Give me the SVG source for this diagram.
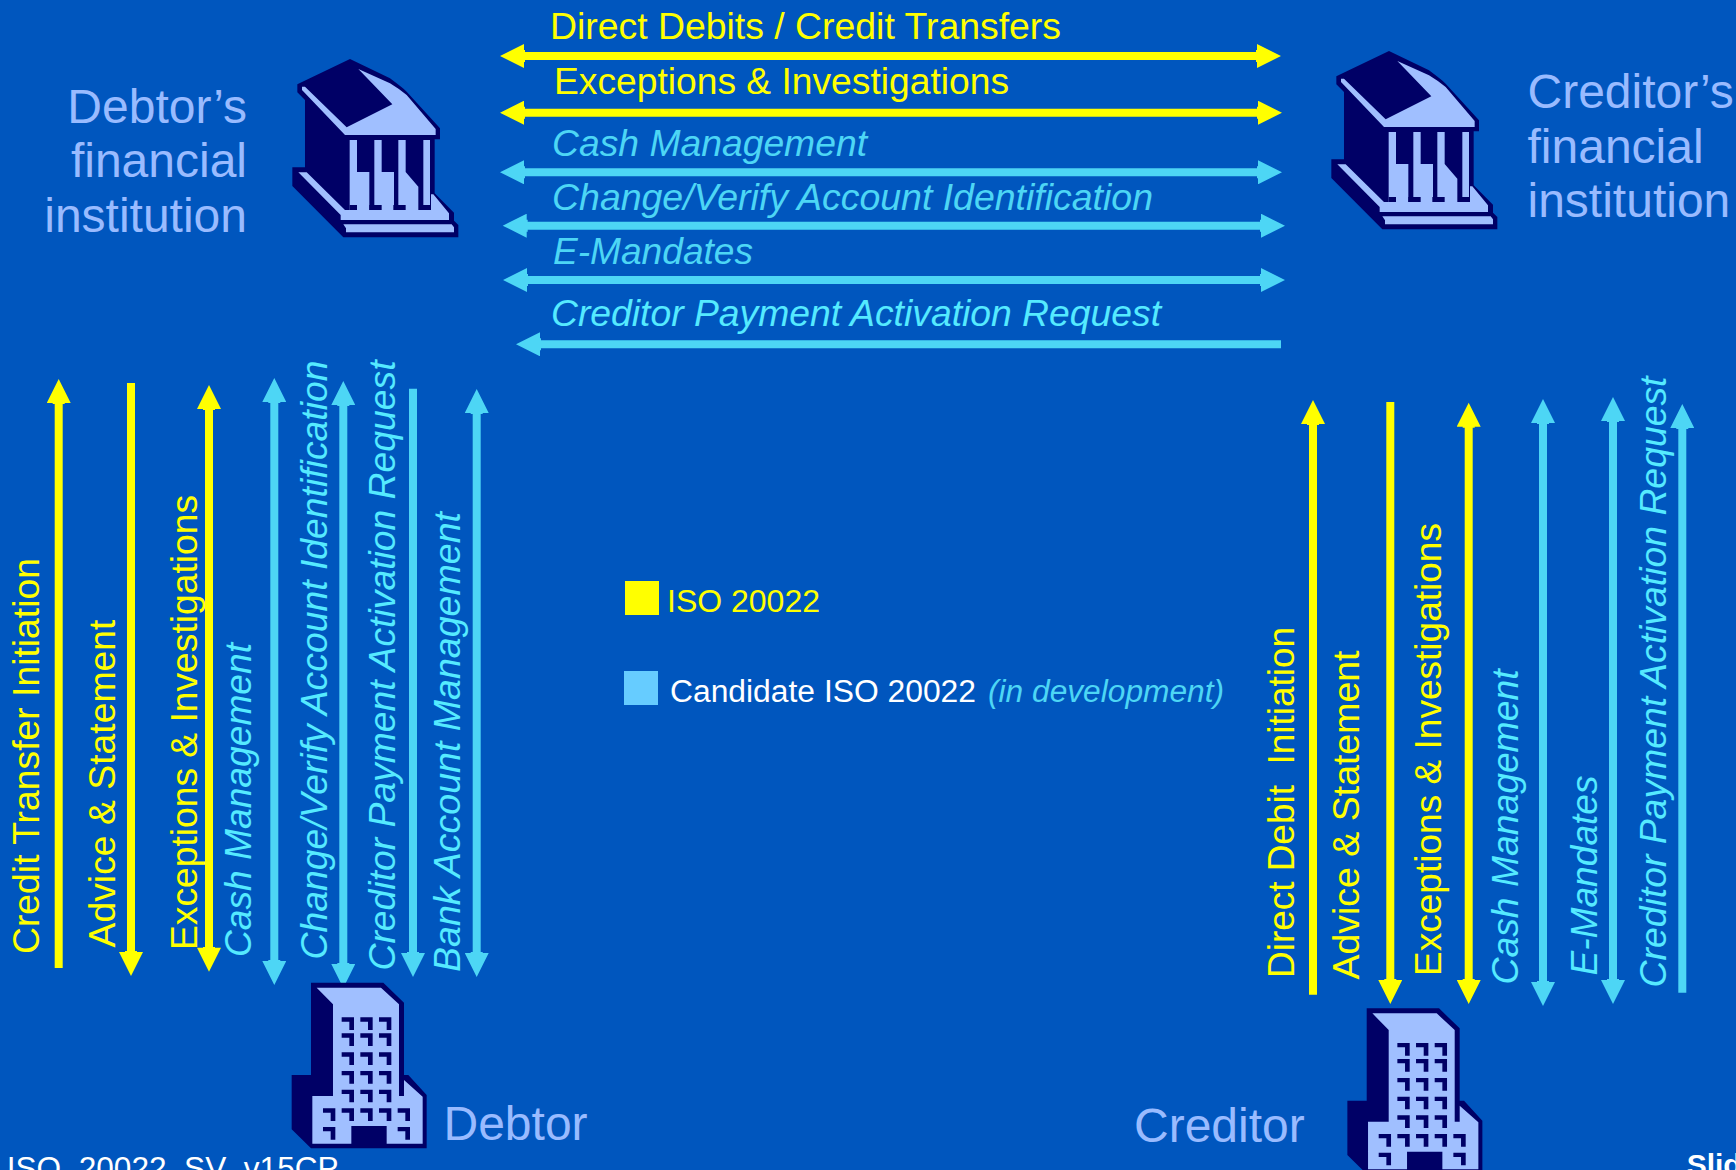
<svg xmlns="http://www.w3.org/2000/svg" width="1736" height="1170" viewBox="0 0 1736 1170">
<style>
text{font-family:"Liberation Sans",Arial,sans-serif}
.h{font-size:37px}
.v{font-size:37px}
.y{fill:#ffff00}
.c{fill:#4dd6f5;font-style:italic}
.b{fill:#55eaff;font-style:italic}
.n{fill:#99bbff;font-size:48px}
.w{fill:#ffffff}
.ly{stroke:#ffff00;stroke-width:8;fill:none}
.lc{stroke:#4dd6f5;stroke-width:8;fill:none}
.ya{marker-start:url(#hy);marker-end:url(#hy)}
.ca{marker-start:url(#hc);marker-end:url(#hc)}
.d{fill:#000066}
.l{fill:#a0bfff}
</style>
<defs>
<marker id="hy" markerUnits="userSpaceOnUse" markerWidth="26" markerHeight="24" refX="1" refY="12" orient="auto-start-reverse"><path d="M0,6H1V0L25,12L1,24V18H0Z" fill="#ffff00"/></marker>
<marker id="hc" markerUnits="userSpaceOnUse" markerWidth="26" markerHeight="24" refX="1" refY="12" orient="auto-start-reverse"><path d="M0,6H1V0L25,12L1,24V18H0Z" fill="#4dd6f5"/></marker>
<symbol id="bank" overflow="visible">
<path class="d" d="M240,57L82,133V157L105,180V382H67V438L220,592H565V555L552,542V518L494,460V298H510V265L410,155Q400,145 360,115Z"/>
<path class="l" d="M265,87L360,130Q385,145 410,165L497,267V285H225L96,150V140H105L230,262L367,193Z"/>
<path class="l" d="M85,397H110L225,510H483V463H490L537,520V540H212V525Z"/>
<path class="l" d="M239,300H261V396H298V510H239Z"/>
<path class="l" d="M313,300H335V396H372V510H313Z"/>
<path class="l" d="M385,300H407V396L445,440V510H385Z"/>
<path class="l" d="M460,300H480V510H460Z"/>
<path class="d" d="M239,495H261V510H239ZM298,495H335V510H298ZM370,495H407V510H370ZM447,495H483V510H447Z"/>
<path class="l" d="M220,553H545L552,562V577H228V565Z"/>
</symbol>
<path id="win" class="d" d="M0,0H37V38H23V13H0Z"/>
<symbol id="office" overflow="visible">
<path class="d" d="M123,38H340L402,98V315H415L470,375V535H123L65,478V315H123Z"/>
<path class="l" d="M140,53H333L387,103V378H402V330L458,380V521H350V468H244V521H127V378H189V103Z"/>
<use href="#win" x="215" y="142"/><use href="#win" x="271" y="142"/><use href="#win" x="327" y="142"/>
<use href="#win" x="215" y="190"/><use href="#win" x="271" y="190"/><use href="#win" x="327" y="190"/>
<use href="#win" x="215" y="247"/><use href="#win" x="271" y="247"/><use href="#win" x="327" y="247"/>
<use href="#win" x="215" y="303"/><use href="#win" x="271" y="303"/><use href="#win" x="327" y="303"/>
<use href="#win" x="215" y="359"/><use href="#win" x="271" y="359"/><use href="#win" x="327" y="359"/>
<use href="#win" x="159" y="415"/><use href="#win" x="215" y="415"/><use href="#win" x="271" y="415"/><use href="#win" x="327" y="415"/><use href="#win" x="383" y="415"/>
<use href="#win" x="159" y="471"/><use href="#win" x="383" y="471"/>
</symbol>
</defs>
<rect width="1736" height="1170" fill="#0056be"/>

<g id="connectors">
<path class="ly ya" d="M524,56H1257"/>
<path class="ly ya" d="M524,112.7H1258"/>
<path class="lc ca" d="M524,172.3H1258"/>
<path class="lc ca" d="M526.7,225.7H1261"/>
<path class="lc ca" d="M527,280H1261"/>
<path class="lc" marker-start="url(#hc)" d="M540,344.3H1281"/>

<path class="ly" marker-start="url(#hy)" d="M58.7,403V968"/>
<path class="ly" marker-end="url(#hy)" d="M131,383V952"/>
<path class="ly ya" d="M209,409V947.7"/>
<path class="lc ca" d="M274.3,402V961"/>
<path class="lc ca" d="M343.3,405V964"/>
<path class="lc" marker-end="url(#hc)" d="M413,388.7V953"/>
<path class="lc ca" d="M476.7,413V953"/>

<path class="ly" marker-start="url(#hy)" d="M1313,424V994.7"/>
<path class="ly" marker-end="url(#hy)" d="M1390.3,402V980"/>
<path class="ly ya" d="M1468.7,426.7V980"/>
<path class="lc ca" d="M1543,423V982"/>
<path class="lc ca" d="M1613,421V980"/>
<path class="lc" marker-start="url(#hc)" d="M1682.3,428V992.7"/>
</g>

<g id="debtor-bank"><use href="#bank" transform="translate(270,40) scale(.33333)"/><text class="n" text-anchor="end" x="247" y="123">Debtor’s</text><text class="n" text-anchor="end" x="247" y="177">financial</text><text class="n" text-anchor="end" x="247" y="232">institution</text></g>
<g id="creditor-bank"><use href="#bank" transform="translate(1309,32) scale(.33333)"/><text class="n" x="1527.5" y="108">Creditor’s</text><text class="n" x="1527.5" y="163">financial</text><text class="n" x="1527.5" y="217">institution</text></g>
<g id="debtor"><use href="#office" transform="translate(270,970) scale(.33333)"/><text class="n" x="443.5" y="1140">Debtor</text></g>
<g id="creditor"><use href="#office" transform="translate(1325.7,995.7) scale(.33333)"/><text class="n" x="1134" y="1142">Creditor</text></g>

<g id="top-labels">
<text class="h y" x="550" y="39" textLength="511" lengthAdjust="spacingAndGlyphs">Direct Debits / Credit Transfers</text>
<text class="h y" x="554" y="94" textLength="455" lengthAdjust="spacingAndGlyphs">Exceptions &amp; Investigations</text>
<text class="h c" x="552" y="156" textLength="315" lengthAdjust="spacingAndGlyphs">Cash Management</text>
<text class="h c" x="552" y="210" textLength="601" lengthAdjust="spacingAndGlyphs">Change/Verify Account Identification</text>
<text class="h c" x="553" y="264" textLength="200" lengthAdjust="spacingAndGlyphs">E-Mandates</text>
<text class="h b" x="551" y="325.5" textLength="610" lengthAdjust="spacingAndGlyphs">Creditor Payment Activation Request</text>
</g>

<g id="left-labels">
<text class="v y" transform="translate(39,954) rotate(-90)" textLength="396" lengthAdjust="spacingAndGlyphs">Credit Transfer Initiation</text>
<text class="v y" transform="translate(115,947.5) rotate(-90)" textLength="328" lengthAdjust="spacingAndGlyphs">Advice &amp; Statement</text>
<text class="v y" transform="translate(197,950) rotate(-90)" textLength="455" lengthAdjust="spacingAndGlyphs">Exceptions &amp; Investigations</text>
<text class="v b" transform="translate(251,957) rotate(-90)" textLength="314" lengthAdjust="spacingAndGlyphs">Cash Management</text>
<text class="v b" transform="translate(327,959.5) rotate(-90)" textLength="599" lengthAdjust="spacingAndGlyphs">Change/Verify Account Identification</text>
<text class="v b" transform="translate(395,970.5) rotate(-90)" textLength="610" lengthAdjust="spacingAndGlyphs">Creditor Payment Activation Request</text>
<text class="v b" transform="translate(459.5,972) rotate(-90)" textLength="460" lengthAdjust="spacingAndGlyphs">Bank Account Management</text>
</g>

<g id="right-labels">
<text class="v y" xml:space="preserve" transform="translate(1294,978) rotate(-90)" textLength="351" lengthAdjust="spacingAndGlyphs">Direct Debit  Initiation</text>
<text class="v y" transform="translate(1359,979.5) rotate(-90)" textLength="329" lengthAdjust="spacingAndGlyphs">Advice &amp; Statement</text>
<text class="v y" transform="translate(1441,976) rotate(-90)" textLength="453" lengthAdjust="spacingAndGlyphs">Exceptions &amp; Investigations</text>
<text class="v b" transform="translate(1518,984.5) rotate(-90)" textLength="315" lengthAdjust="spacingAndGlyphs">Cash Management</text>
<text class="v b" transform="translate(1596.7,975.5) rotate(-90)" textLength="200" lengthAdjust="spacingAndGlyphs">E-Mandates</text>
<text class="v b" transform="translate(1666,987.5) rotate(-90)" textLength="611" lengthAdjust="spacingAndGlyphs">Creditor Payment Activation Request</text>
</g>

<g id="legend">
<rect x="625" y="581" width="34" height="34" fill="#ffff00"/>
<rect x="624" y="671" width="34" height="34" fill="#66ccff"/>
<text class="y" x="667" y="612" font-size="31" textLength="153" lengthAdjust="spacingAndGlyphs">ISO 20022</text>
<text class="w" x="670" y="702" font-size="31" textLength="306" lengthAdjust="spacingAndGlyphs">Candidate ISO 20022</text>
<text class="c" x="988" y="702" font-size="31" textLength="236" lengthAdjust="spacingAndGlyphs">(in development)</text>
</g>

<g id="footer">
<text class="w" xml:space="preserve" x="6.7" y="1179" font-size="31.6">ISO  20022  SV  v15CP</text>
<text class="w" x="1686.7" y="1175" font-size="30" font-weight="bold">Slide</text>
</g>
</svg>
